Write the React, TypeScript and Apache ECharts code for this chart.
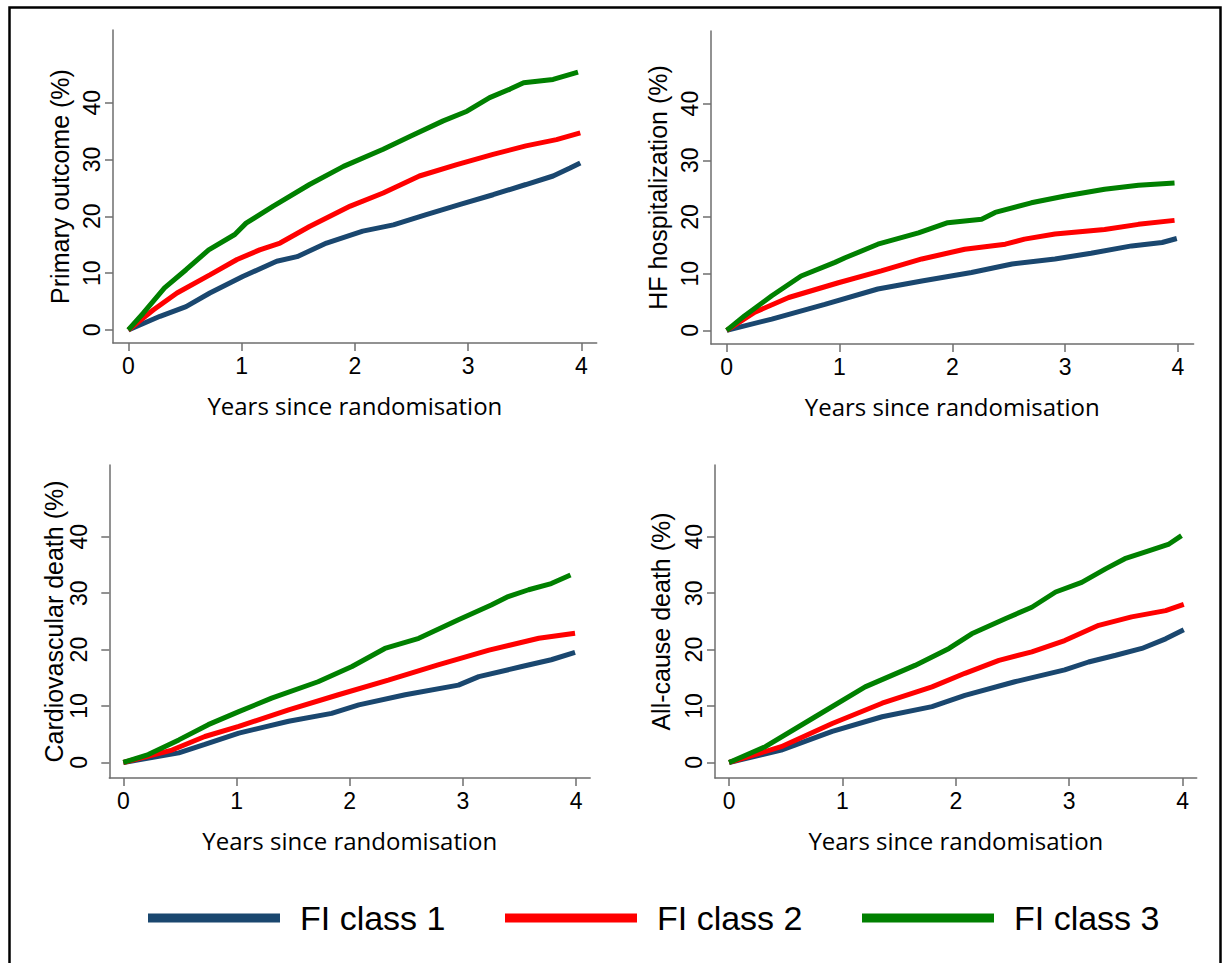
import React, { useEffect, useRef } from "react";
import * as echarts from "echarts";

const xTicks = [0, 1, 2, 3, 4];
const yTicks = [0, 10, 20, 30, 40];
const classNames = ["FI class 1", "FI class 2", "FI class 3"];
const classColors = ["#1a476f", "#ff0000", "#008000"];
const panelTitles = ["Primary outcome (%)", "HF hospitalization (%)", "Cardiovascular death (%)", "All-cause death (%)"];
const xTitle = "Years since randomisation";

// [years, %]
const primary1 = [[0, 0], [0.28, 2.4], [0.51, 4.1], [0.72, 6.5], [1.01, 9.4], [1.31, 12.1], [1.49, 12.9], [1.75, 15.3], [2.07, 17.4], [2.34, 18.5], [2.63, 20.3], [2.93, 22.1], [3.22, 23.8], [3.51, 25.6], [3.75, 27.1], [3.9, 28.5], [3.99, 29.4]];
const primary2 = [[0, 0], [0.22, 3.5], [0.43, 6.5], [0.72, 9.7], [0.96, 12.4], [1.16, 14.1], [1.34, 15.3], [1.6, 18.2], [1.96, 21.8], [2.25, 24.1], [2.57, 27.1], [2.9, 29.1], [3.22, 30.9], [3.51, 32.4], [3.78, 33.5], [3.99, 34.7]];
const primary3 = [[0, 0], [0.13, 2.9], [0.32, 7.4], [0.51, 10.6], [0.71, 14.1], [0.94, 16.8], [1.04, 18.8], [1.28, 21.8], [1.6, 25.6], [1.9, 28.8], [2.25, 31.8], [2.49, 34.1], [2.78, 36.8], [2.99, 38.5], [3.19, 40.9], [3.37, 42.4], [3.49, 43.5], [3.75, 44.1], [3.97, 45.4]];

const hf1 = [[0, 0], [0.4, 2.0], [0.87, 4.6], [1.34, 7.3], [1.73, 8.7], [2.17, 10.2], [2.53, 11.7], [2.91, 12.6], [3.23, 13.6], [3.59, 14.9], [3.86, 15.5], [3.99, 16.2]];
const hf2 = [[0, 0], [0.25, 3.2], [0.55, 5.8], [0.99, 8.4], [1.37, 10.5], [1.73, 12.6], [2.11, 14.3], [2.47, 15.2], [2.64, 16.1], [2.91, 17.0], [3.35, 17.8], [3.65, 18.7], [3.97, 19.4]];
const hf3 = [[0, 0], [0.16, 2.6], [0.4, 6.1], [0.66, 9.6], [0.96, 12.0], [1.05, 12.8], [1.34, 15.2], [1.7, 17.2], [1.96, 19.0], [2.26, 19.6], [2.38, 20.8], [2.7, 22.5], [3.0, 23.7], [3.35, 24.9], [3.65, 25.6], [3.97, 26.0]];

const cv1 = [[0, 0], [0.49, 1.7], [0.72, 3.2], [1.02, 5.2], [1.46, 7.3], [1.84, 8.7], [2.08, 10.2], [2.49, 12.0], [2.96, 13.7], [3.14, 15.2], [3.52, 17.0], [3.78, 18.2], [3.99, 19.5]];
const cv2 = [[0, 0], [0.43, 2.2], [0.72, 4.6], [1.02, 6.4], [1.46, 9.3], [1.9, 12.0], [2.34, 14.6], [2.78, 17.3], [3.23, 19.9], [3.67, 22.0], [3.99, 22.9]];
const cv3 = [[0, 0], [0.22, 1.4], [0.49, 4.0], [0.75, 6.7], [1.02, 9.0], [1.31, 11.4], [1.72, 14.3], [2.02, 17.0], [2.31, 20.2], [2.61, 22.0], [2.96, 25.3], [3.25, 27.9], [3.4, 29.4], [3.58, 30.6], [3.78, 31.7], [3.95, 33.2]];

const all1 = [[0, 0], [0.46, 2.2], [0.91, 5.5], [1.35, 8.1], [1.79, 9.9], [2.08, 11.9], [2.52, 14.3], [2.96, 16.4], [3.17, 17.8], [3.41, 19.0], [3.64, 20.2], [3.85, 21.9], [4.01, 23.5]];
const all2 = [[0, 0], [0.46, 2.8], [0.91, 6.9], [1.35, 10.5], [1.79, 13.4], [2.08, 15.8], [2.38, 18.1], [2.67, 19.6], [2.96, 21.6], [3.26, 24.3], [3.55, 25.8], [3.85, 26.9], [4.01, 28.0]];
const all3 = [[0, 0], [0.32, 2.8], [0.76, 8.1], [1.2, 13.4], [1.64, 17.2], [1.94, 20.2], [2.14, 22.8], [2.44, 25.5], [2.67, 27.5], [2.88, 30.2], [3.11, 31.9], [3.32, 34.3], [3.49, 36.1], [3.7, 37.5], [3.88, 38.7], [3.99, 40.2]];

const panelData = [
  [primary1, primary2, primary3],
  [hf1, hf2, hf3],
  [cv1, cv2, cv3],
  [all1, all2, all3],
];

const layouts = [
  { left: 113, top: 30, width: 483.7, height: 313, xMin: -0.135, xMax: 4.135, yMin: -2.3, yMax: 52.8, labelMargin: 10, nameGap: 41, xNameGap: 50 },
  { left: 711, top: 31, width: 482.6, height: 313, xMin: -0.139, xMax: 4.139, yMin: -2.4, yMax: 52.8, labelMargin: 10, nameGap: 41, xNameGap: 50 },
  { left: 109.3, top: 465, width: 480.9, height: 313, xMin: -0.124, xMax: 4.124, yMin: -2.75, yMax: 52.7, labelMargin: 19, nameGap: 43, xNameGap: 50 },
  { left: 715, top: 465, width: 481.7, height: 313, xMin: -0.124, xMax: 4.124, yMin: -2.75, yMax: 52.7, labelMargin: 10, nameGap: 42, xNameGap: 50 },
];

const axisGray = "#6e6e6e";
const sans = "'Liberation Sans', Arial, sans-serif";

export default function App() {
  const ref = useRef<HTMLDivElement>(null);
  useEffect(() => {
    if (!ref.current) return;
    const chart = echarts.init(ref.current, null, { renderer: "svg" });
    const grid = layouts.map((l) => ({ left: l.left, top: l.top, width: l.width, height: l.height, containLabel: false }));
    const xAxis = layouts.map((l, i) => ({
      type: "value",
      gridIndex: i,
      min: l.xMin,
      max: l.xMax,
      name: xTitle,
      nameLocation: "middle",
      nameGap: l.xNameGap,
      nameTextStyle: { fontFamily: "'Open Sans', sans-serif", fontSize: 24, color: "#000" },
      splitLine: { show: false },
      axisLine: { show: true, onZero: false, lineStyle: { color: axisGray, width: 1.5 } },
      axisTick: { show: true, length: 8, customValues: xTicks, lineStyle: { color: axisGray, width: 1.5 } },
      axisLabel: { customValues: xTicks, margin: 11, fontFamily: sans, fontSize: 23, color: "#000" },
    }));
    const yAxis = layouts.map((l, i) => ({
      type: "value",
      gridIndex: i,
      min: l.yMin,
      max: l.yMax,
      name: panelTitles[i],
      nameLocation: "middle",
      nameRotate: 90,
      nameGap: l.nameGap,
      nameTextStyle: { fontFamily: sans, fontSize: 25, color: "#000" },
      splitLine: { show: false },
      axisLine: { show: true, onZero: false, lineStyle: { color: axisGray, width: 1.5 } },
      axisTick: { show: true, length: 8, customValues: yTicks, lineStyle: { color: axisGray, width: 1.5 } },
      axisLabel: { customValues: yTicks, rotate: 90, margin: l.labelMargin, fontFamily: sans, fontSize: 23, color: "#000" },
    }));
    const series: any[] = [];
    panelData.forEach((group, i) => {
      group.forEach((d, k) => {
        series.push({
          type: "line",
          name: classNames[k],
          xAxisIndex: i,
          yAxisIndex: i,
          data: d,
          showSymbol: false,
          symbol: "none",
          smooth: false,
          clip: true,
          lineStyle: { color: classColors[k], width: 5 },
          itemStyle: { color: classColors[k] },
          z: 2 + k,
        });
      });
    });
    const legendLefts = [143, 500, 857];
    const legend = classNames.map((n, k) => ({
      data: [n],
      left: legendLefts[k],
      top: 896,
      icon: "rect",
      itemWidth: 132,
      itemHeight: 9,
      selectedMode: false,
      textStyle: { fontFamily: sans, fontSize: 34, color: "#000", padding: [0, 0, 0, 15], lineHeight: 34 },
    }));
    chart.setOption({
      animation: false,
      backgroundColor: "#fff",
      grid,
      xAxis,
      yAxis,
      series,
      legend,
      graphic: [
        {
          type: "rect",
          shape: { x: 9.5, y: 7.5, width: 1211, height: 980 },
          style: { fill: "none", stroke: "#000", lineWidth: 2.5 },
          silent: true,
        },
      ],
    });
    return () => chart.dispose();
  }, []);
  return <div ref={ref} style={{ position: "fixed", left: 0, top: 0, width: 1229, height: 963 }} />;
}
